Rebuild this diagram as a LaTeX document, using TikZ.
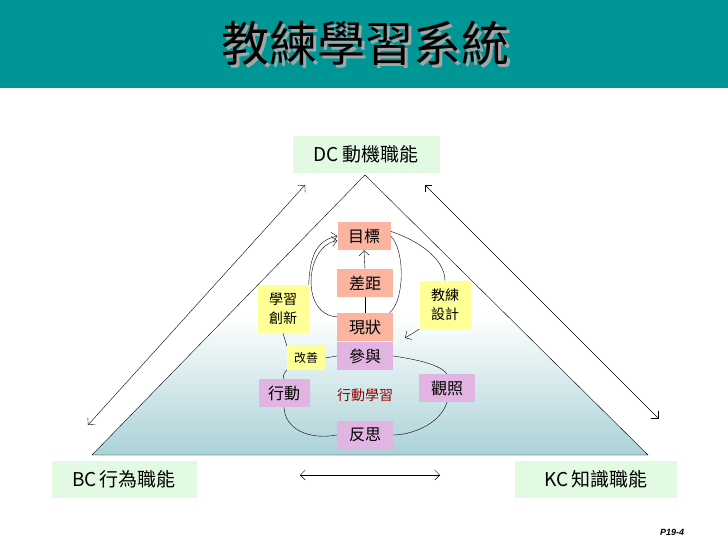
\documentclass[tikz,border=0pt]{standalone}
\usepackage{fontspec}
\setmainfont{Liberation Sans}
\newfontfamily\cjk{Noto Sans CJK TC}
\usetikzlibrary{arrows.meta}
\definecolor{bar}{RGB}{0,150,150}
\definecolor{salm}{RGB}{250,180,160}
\definecolor{pink}{RGB}{225,180,225}
\definecolor{yell}{RGB}{255,255,150}
\definecolor{lgreen}{RGB}{225,250,225}
\definecolor{bot}{RGB}{170,210,215}
\begin{document}
\begin{tikzpicture}[x=1pt,y=-1pt,
  lbl/.style={fill=lgreen,minimum width=147pt,minimum height=37pt,font=\cjk\fontsize{19}{19}\selectfont},
  sal/.style={fill=salm,minimum width=56pt,minimum height=28pt,inner sep=0pt,font=\cjk\fontsize{16}{16}\selectfont},
  pnk/.style={fill=pink,minimum width=56pt,minimum height=28pt,inner sep=0pt,font=\cjk\fontsize{16}{16}\selectfont},
  yel/.style={fill=yell,minimum width=51pt,minimum height=48pt,inner sep=1pt,align=center,font=\cjk\fontsize{14}{19}\selectfont},
  arr/.style={-{Straight Barb[length=5pt]},thin},
  darr/.style={{Straight Barb[length=5pt]}-{Straight Barb[length=5pt]},thin}]
\useasboundingbox (0,0) rectangle (728,546);
\fill[white] (0,0) rectangle (728,546);
\fill[bar] (0,0) rectangle (728,88);
\node (title) at (365,45) {\cjk\fontsize{48}{48}\selectfont\rlap{\hspace{3pt}\raisebox{-3pt}{\textcolor{gray!70}{教練學習系統}}}教練學習系統};
\shade[top color=white,bottom color=bot,middle color=white] (365,175) -- (648,455) -- (92,455) -- cycle;
\draw[thin] (365,175) -- (648,455) -- (92,455) -- cycle;
\node[lbl] (dc) at (366,154) {DC\,動機職能};
\node[lbl,minimum width=145pt] (bc) at (124,479) {BC\,行為職能};
\node[lbl,minimum width=162pt] (kc) at (596,479) {KC\,知識職能};
\coordinate (l1) at (305,185); \coordinate (l2) at (88,425);
\coordinate (r1) at (425,185); \coordinate (r2) at (658,418);
\coordinate (b1) at (300,475); \coordinate (b2) at (440,475);
\draw[darr] (l1) -- (l2); \draw[darr] (r1) -- (r2); \draw[darr] (b1) -- (b2);
\node[sal,minimum width=53pt] (mb) at (364,236) {目標};
\node[sal] (cj) at (365,283) {差距};
\node[sal] (xz) at (365,327) {現狀};
\node[pnk] (cy) at (365,356) {參與};
\node[pnk] (gz) at (447,388) {觀照};
\node[pnk,minimum width=51pt] (xd) at (284,393) {行動};
\node[pnk] (fs) at (365,435) {反思};
\node[yel] (cx) at (283,309) {學習\\創新};
\node[yel] (jl) at (445,305) {教練\\設計};
\node[yel,font=\cjk\fontsize{12}{12}\selectfont,minimum width=38pt,minimum height=24pt] (gs) at (306,358) {改善};
\node[text=red!60!black,font=\cjk\fontsize{14}{14}\selectfont] (xdxx) at (365,395) {行動學習};
\coordinate (jt) at (405,338);
\draw[arr] (cj.north) -- (mb.south);
\draw (xz.north) -- (cj.south);
\draw[arr] (xz.160) .. controls (300,315) and (305,245) .. (mb.190);
\draw (mb.east) .. controls (405,250) and (405,300) .. (xz.30);
\draw[arr] (cx.north east) .. controls (310,250) and (320,240) .. (mb.west);
\draw (mb.10) .. controls (430,245) and (445,265) .. (jl.north);
\draw[arr] (jl.south west) -- (jt);
\draw (cx.south) -- (gs.north west);
\draw (gs.east) -- (cy.west);
\draw (gs.south west) .. controls (285,372) and (282,376) .. (xd.north);
\draw (cy.east) .. controls (420,360) and (440,365) .. (gz.north);
\draw (gz.south) .. controls (440,425) and (410,435) .. (fs.east);
\draw (fs.west) .. controls (310,440) and (285,430) .. (xd.south);
\node[font=\bfseries\itshape\small] (pg) at (672,532) {P19-4};
\end{tikzpicture}
\end{document}
